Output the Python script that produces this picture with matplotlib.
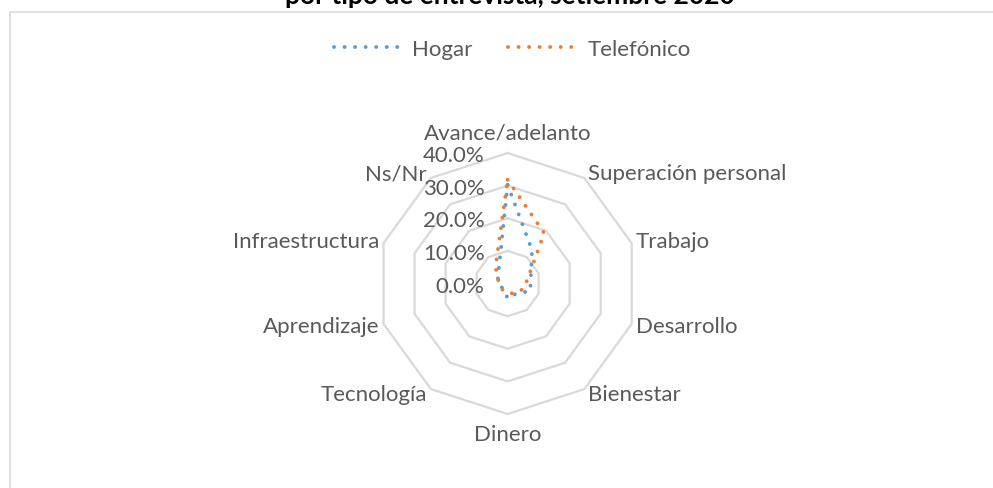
import numpy as np
import matplotlib
matplotlib.use('Agg')
import matplotlib.pyplot as plt
from matplotlib.patches import Rectangle

# datos (porcentajes)
categorias = ['Avance/adelanto', 'Superación personal', 'Trabajo', 'Desarrollo', 'Bienestar',
              'Dinero', 'Tecnología', 'Aprendizaje', 'Infraestructura', 'Ns/Nr']
hogar = [30.3, 12.7, 7.5, 7.3, 4.0, 4.6, 2.0, 2.5, 3.2, 4.7]
telefonico = [31.8, 19.1, 6.7, 5.2, 3.7, 3.0, 2.5, 2.5, 3.0, 6.3]
niveles = [0, 10, 20, 30, 40]
titulo = 'por tipo de entrevista, setiembre 2020'

azul = '#5B9BD5'
naranja = '#ED7D31'
gris_txt = '#595959'
gris_lin = '#D9D9D9'

plt.rcParams['font.family'] = ['Lato', 'DejaVu Sans']
fs = 16

fig = plt.figure(figsize=(9.93, 4.89), dpi=100)
ax = fig.add_axes([0.3798, 0.1513, 0.2628, 0.5337], projection='polar')
ax.set_theta_zero_location('N')
ax.set_theta_direction(-1)

n = len(categorias)
ang = np.arange(n) * 2 * np.pi / n
ang_c = np.append(ang, ang[0])

# anillos (decagonos)
for nv in niveles[1:]:
    ax.plot(ang_c, [nv] * (n + 1), color=gris_lin, lw=1.6, zorder=1, clip_on=False)

ax.set_ylim(0, niveles[-1])
ax.grid(False)
ax.spines['polar'].set_visible(False)
ax.set_xticks([])
ax.set_yticks([])
ax.patch.set_visible(False)

# series
for vals, col, lab in [(hogar, azul, 'Hogar'), (telefonico, naranja, 'Telefónico')]:
    ax.plot(ang_c, np.append(vals, vals[0]), color=col, lw=2.8,
            linestyle=(0, (0.01, 2.7)), dash_capstyle='round', label=lab,
            zorder=3, clip_on=False)

# etiquetas de valores
for nv in niveles:
    ax.annotate('{:.1f}%'.format(nv), xy=(0, nv), xytext=(-23, -2),
                textcoords='offset pixels', ha='right', va='center',
                fontsize=fs, color=gris_txt, annotation_clip=False)

# etiquetas de categorias
for a, c in zip(ang, categorias):
    s, co = np.sin(a), np.cos(a)
    if abs(s) < 0.01:
        ha = 'center'
        off = (0, 21 if co > 0 else -20)
    else:
        ha = 'left' if s > 0 else 'right'
        off = (4 * np.sign(s), 6 * co)
    ax.annotate(c, xy=(a, niveles[-1]), xytext=off, textcoords='offset pixels',
                ha=ha, va='center', fontsize=fs, color=gris_txt, annotation_clip=False)

# leyenda
fig.legend(loc='center', bbox_to_anchor=(512 / 993, 1 - 50 / 489), ncol=2, frameon=False,
           handlelength=3.2, handletextpad=0.35, columnspacing=1.6, fontsize=fs,
           labelcolor=gris_txt)

# titulo (cortado arriba como en la imagen)
fig.text(510 / 993, 1 - 4.5 / 489, titulo, ha='center', va='baseline',
         fontsize=19, fontweight='bold', color='black')

# borde del area del grafico
fig.add_artist(Rectangle((9.5 / 993, -0.05), 1.1, (489 - 12.5) / 489 + 0.05,
                         transform=fig.transFigure, fill=False, ec=gris_lin, lw=1.2))

fig.savefig('out.png', dpi=100)
